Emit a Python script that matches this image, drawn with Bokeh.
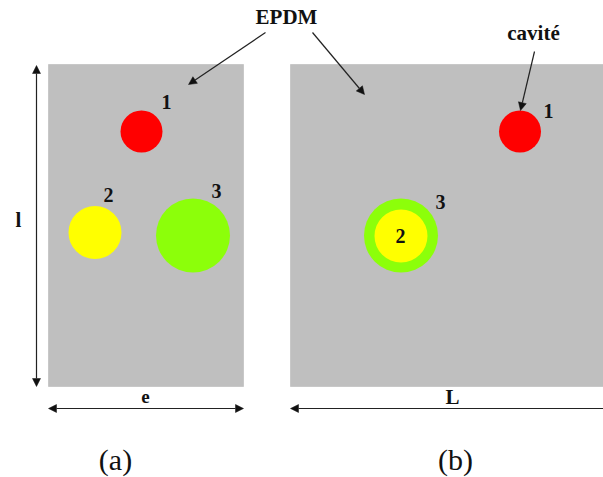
from bokeh.plotting import figure
from bokeh.models import Range1d, Arrow, NormalHead, ColumnDataSource
from bokeh.core.properties import value
from bokeh.embed import file_html
from bokeh.resources import INLINE

# Panels (picture units)
panel_left = [48, 290]
panel_right = [243, 603]
panel_top = [64, 64]
panel_bottom = [386, 386]
panel_color = "#bfbfbf"

# Cavities, drawn in order
cav_x = [141, 94.5, 192.5, 519.5, 400.5, 400.5]
cav_y = [131, 232, 235, 131, 235, 235.5]
cav_r = [21, 26.5, 37, 21, 37, 26.5]
cav_color = ["#ff0000", "#ffff00", "#8cff0a", "#ff0000", "#8cff0a", "#ffff00"]

# Labels
lab_text = ["EPDM", "cavité", "1", "2", "3", "1", "3", "2", "l", "e", "L"]
lab_x = [286, 533, 166, 108, 216, 548, 440, 400, 18, 145, 452]
lab_y = [16, 32, 101, 194, 190, 110, 201, 235, 219, 396, 396]
lab_size = ["21px", "21px", "20px", "20px", "20px", "20px", "20px", "20px", "21px", "19px", "21px"]
cap_text = ["(a)", "(b)"]
cap_x = [115, 455]
cap_y = [459, 459]

# Arrows: start, end, whether the start has a head too
arr_x0 = [265, 312, 534, 36, 48, 290]
arr_y0 = [32, 32, 51, 386, 408, 408]
arr_x1 = [188, 364, 520, 36, 243, 614]
arr_y1 = [84, 94, 110, 65, 408, 408]
arr_both = [False, False, False, True, True, True]

p = figure(width=603, height=477, output_backend="svg", toolbar_location=None,
           x_range=Range1d(0, 603), y_range=Range1d(477, 0),
           min_border=0, min_border_left=0, min_border_right=0,
           min_border_top=0, min_border_bottom=0)
p.axis.visible = False
p.grid.visible = False
p.outline_line_color = None

p.quad(left=panel_left, right=panel_right, top=panel_top, bottom=panel_bottom,
       fill_color=panel_color, line_color="#c8c8c8", line_width=1)

p.circle(x=cav_x, y=cav_y, radius=cav_r, fill_color=cav_color, line_color=None)


def head():
    return NormalHead(size=8, fill_color="#111111", line_color="#111111", line_width=0.5)


for x0, y0, x1, y1, both in zip(arr_x0, arr_y0, arr_x1, arr_y1, arr_both):
    p.add_layout(Arrow(end=head(), start=head() if both else None,
                       x_start=x0, y_start=y0, x_end=x1, y_end=y1,
                       line_color="#222222", line_width=1.2))

src = ColumnDataSource(dict(x=lab_x, y=lab_y, t=lab_text, s=lab_size))
p.text(x="x", y="y", text="t", source=src, text_font=value("Liberation Serif"),
       text_font_style="bold", text_font_size="s", text_align="center",
       text_baseline="middle", text_color="#111111")
p.text(x=cap_x, y=cap_y, text=cap_text, text_font=value("Liberation Serif"),
       text_font_size="30px", text_align="center", text_baseline="middle",
       text_color="#111111")

open("out.html", "w").write(file_html(p, INLINE))
